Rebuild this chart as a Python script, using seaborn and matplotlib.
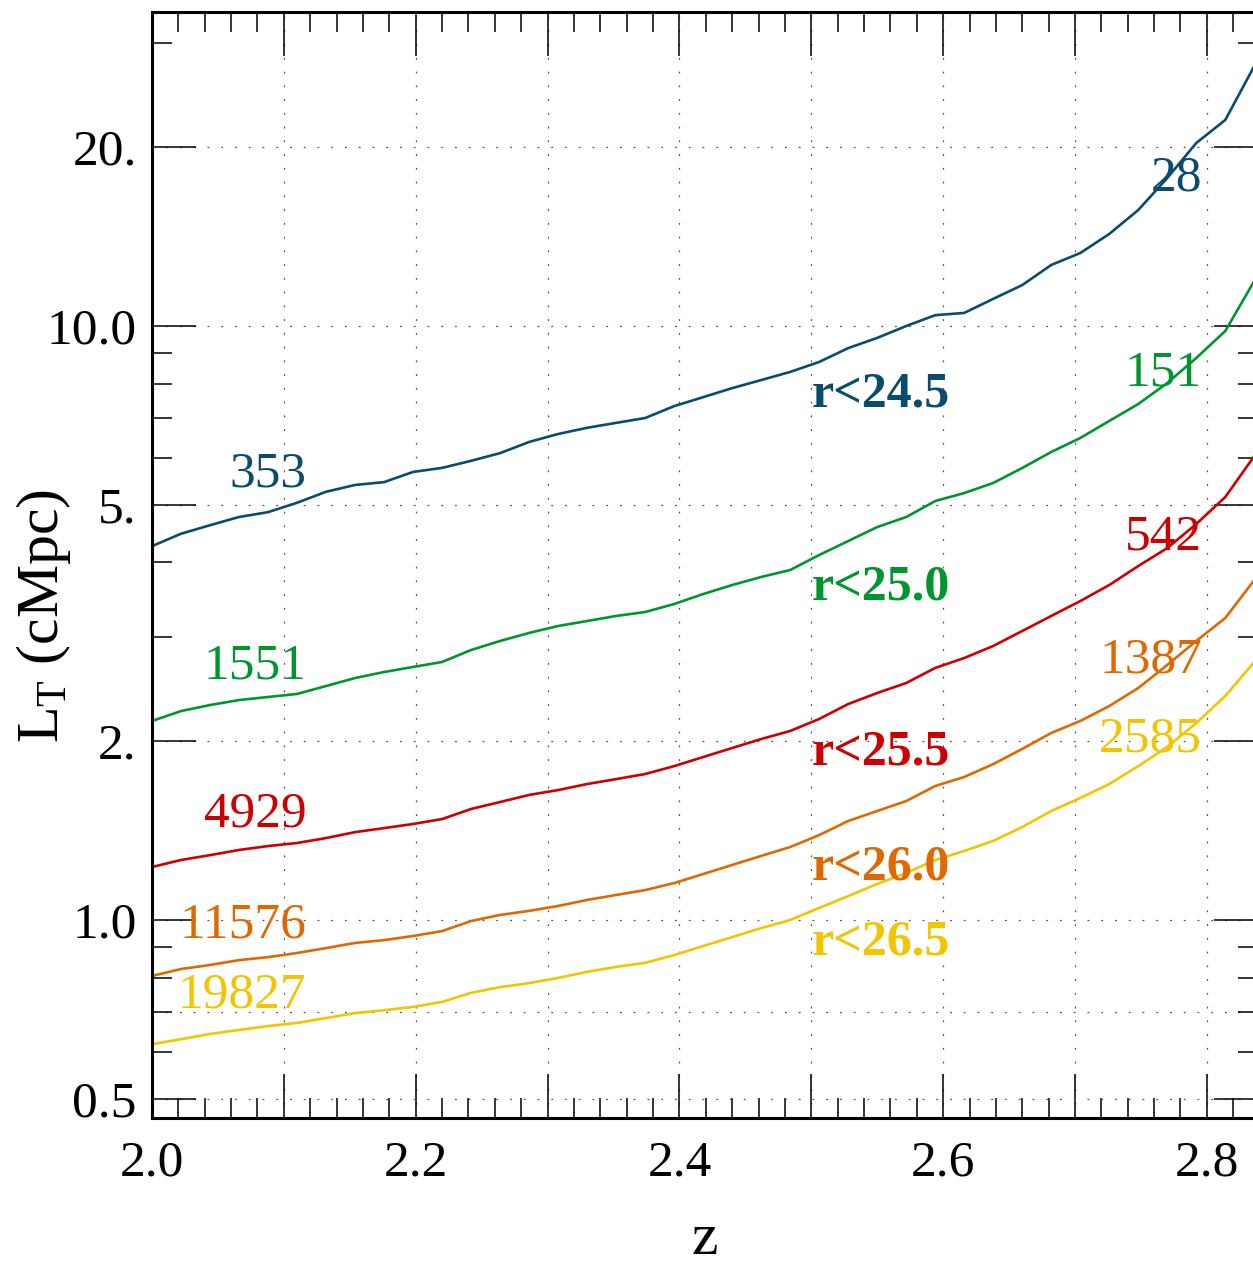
import numpy as np
import pandas as pd
import matplotlib
matplotlib.use("Agg")
import matplotlib.pyplot as plt
from matplotlib.ticker import FixedLocator, FixedFormatter, MultipleLocator, FuncFormatter, LogLocator
import seaborn as sns

# Redshift sampling shared by every curve
z = [2.000, 2.022, 2.044, 2.066, 2.088, 2.110, 2.132, 2.154, 2.176, 2.198,
     2.220, 2.242, 2.264, 2.286, 2.308, 2.330, 2.352, 2.374, 2.396, 2.418,
     2.440, 2.462, 2.484, 2.506, 2.528, 2.550, 2.572, 2.594, 2.616, 2.638,
     2.660, 2.682, 2.704, 2.726, 2.748, 2.770, 2.792, 2.814, 2.836]

# Transverse separation L_T (cMpc) for each magnitude cut
lt_245 = [4.26, 4.47, 4.62, 4.77, 4.86, 5.04, 5.26, 5.40, 5.46, 5.68,
          5.77, 5.93, 6.11, 6.38, 6.58, 6.74, 6.87, 7.00, 7.33, 7.59,
          7.86, 8.11, 8.37, 8.70, 9.18, 9.55, 10.00, 10.43, 10.52, 11.11,
          11.72, 12.67, 13.27, 14.29, 15.68, 17.75, 20.33, 22.23, 27.4]
lt_250 = [2.163, 2.248, 2.301, 2.346, 2.374, 2.402, 2.477, 2.555, 2.615, 2.667,
          2.719, 2.848, 2.950, 3.043, 3.126, 3.187, 3.250, 3.300, 3.404, 3.538,
          3.664, 3.780, 3.884, 4.116, 4.345, 4.587, 4.769, 5.074, 5.234, 5.442,
          5.768, 6.137, 6.478, 6.921, 7.391, 8.017, 8.835, 9.809, 11.91]
lt_255 = [1.228, 1.262, 1.286, 1.312, 1.332, 1.348, 1.374, 1.406, 1.428, 1.451,
          1.479, 1.538, 1.580, 1.624, 1.655, 1.694, 1.727, 1.761, 1.816, 1.881,
          1.948, 2.017, 2.081, 2.180, 2.310, 2.411, 2.506, 2.657, 2.761, 2.893,
          3.066, 3.250, 3.443, 3.664, 3.944, 4.229, 4.642, 5.154, 6.041]
lt_260 = [0.805, 0.827, 0.840, 0.856, 0.866, 0.880, 0.897, 0.915, 0.925, 0.940,
          0.958, 0.996, 1.020, 1.036, 1.056, 1.081, 1.102, 1.123, 1.154, 1.195,
          1.238, 1.282, 1.327, 1.390, 1.468, 1.526, 1.586, 1.681, 1.741, 1.830,
          1.941, 2.065, 2.163, 2.292, 2.458, 2.688, 2.950, 3.224, 3.736]
lt_265 = [0.618, 0.630, 0.643, 0.653, 0.663, 0.671, 0.684, 0.697, 0.705, 0.714,
          0.728, 0.754, 0.771, 0.783, 0.799, 0.818, 0.834, 0.847, 0.873, 0.904,
          0.936, 0.969, 1.000, 1.048, 1.097, 1.150, 1.200, 1.262, 1.307, 1.359,
          1.434, 1.526, 1.605, 1.694, 1.816, 1.956, 2.146, 2.383, 2.719]

mag_cuts = ["r<24.5", "r<25.0", "r<25.5", "r<26.0", "r<26.5"]
counts_low_z = [353, 1551, 4929, 11576, 19827]
counts_high_z = [28, 151, 542, 1387, 2585]

y_major = [0.5, 1.0, 2.0, 5.0, 10.0, 20.0]
y_major_labels = ["0.5", "1.0", "2.", "5.", "10.0", "20."]

colors = ["#0b4b6c", "#00962f", "#cc0000", "#e06800", "#f2c500"]

series = [lt_245, lt_250, lt_255, lt_260, lt_265]
df = pd.concat(
    [pd.DataFrame({"z": z, "L": s, "cut": c}) for s, c in zip(series, mag_cuts)],
    ignore_index=True,
)

sns.set_style("ticks")
plt.rcParams["font.family"] = ["Liberation Serif", "DejaVu Serif"]
plt.rcParams["mathtext.fontset"] = "custom"
plt.rcParams["mathtext.rm"] = "Liberation Serif"
plt.rcParams["mathtext.it"] = "Liberation Serif:italic"
for key in ["text.color", "axes.labelcolor", "xtick.color", "ytick.color",
            "xtick.labelcolor", "ytick.labelcolor", "axes.edgecolor"]:
    plt.rcParams[key] = "black"

W, H = 1253, 1268
fig = plt.figure(figsize=(W / 100, H / 100), dpi=100)
ax = fig.add_axes([152 / W, (H - 1118) / H, (1258 - 152) / W, (1118 - 12) / H])

sns.lineplot(data=df, x="z", y="L", hue="cut", palette=colors,
             hue_order=mag_cuts, legend=False, linewidth=1.9, ax=ax)

ax.set_yscale("log")
ax.set_xlim(2.0, 2.8388)
ax.set_ylim(0.4642, 33.78)

# Grid: dotted lines at the major ticks (plus 0.7)
grid_style = dict(color="#555555", linewidth=0.9, linestyle=(0, (1.5, 9.5)))
ax.grid(True, which="major", **grid_style)
ax.axhline(0.7, zorder=0.5, **grid_style)
ax.set_axisbelow(True)

# Ticks
ax.xaxis.set_major_locator(MultipleLocator(0.1))
ax.xaxis.set_minor_locator(MultipleLocator(0.02))
ax.xaxis.set_major_formatter(
    FuncFormatter(lambda v, p: f"{v:.1f}" if int(round(v * 10)) % 2 == 0 else ""))
ax.yaxis.set_major_locator(FixedLocator(y_major))
ax.yaxis.set_major_formatter(FixedFormatter(y_major_labels))
ax.yaxis.set_minor_locator(LogLocator(base=10, subs=np.arange(2, 10)))
ax.yaxis.set_minor_formatter(FuncFormatter(lambda v, p: ""))

ax.tick_params(which="both", direction="in", top=True, right=True,
               color="black", width=1.1)
ax.tick_params(which="major", length=32, labelsize=37, labelcolor="black")
ax.tick_params(which="minor", length=14.4)
ax.tick_params(axis="x", which="major", pad=16)
ax.tick_params(axis="y", which="major", pad=11)

for sp in ax.spines.values():
    sp.set_linewidth(2.2)
    sp.set_color("black")

ax.set_xlabel("z", fontsize=43, color="black")
ax.set_ylabel(r"L$_{\mathrm{T}}$ (cMpc)", fontsize=43, color="black")
ax.xaxis.set_label_coords(0.5, -0.086)
ax.yaxis.set_label_coords(-0.071, 0.454)

# Galaxy counts at low and high redshift, and magnitude-cut labels
low_pos = [(2.088, 5.64), (2.078, 2.677), (2.078, 1.508), (2.069, 0.981), (2.068, 0.748)]
high_y = [17.75, 8.33, 4.414, 2.740, 2.017]
cut_y = [7.68, 3.636, 1.918, 1.228, 0.915]

for i, col in enumerate(colors):
    ax.text(low_pos[i][0], low_pos[i][1], str(counts_low_z[i]), color=col,
            fontsize=37, ha="center", va="center")
    ax.text(2.7964, high_y[i], str(counts_high_z[i]), color=col,
            fontsize=37, ha="right", va="center")
    ax.text(2.5006, cut_y[i], mag_cuts[i], color=col, fontsize=36,
            fontweight="bold", ha="left", va="center")

fig.savefig("out.png", dpi=100)
